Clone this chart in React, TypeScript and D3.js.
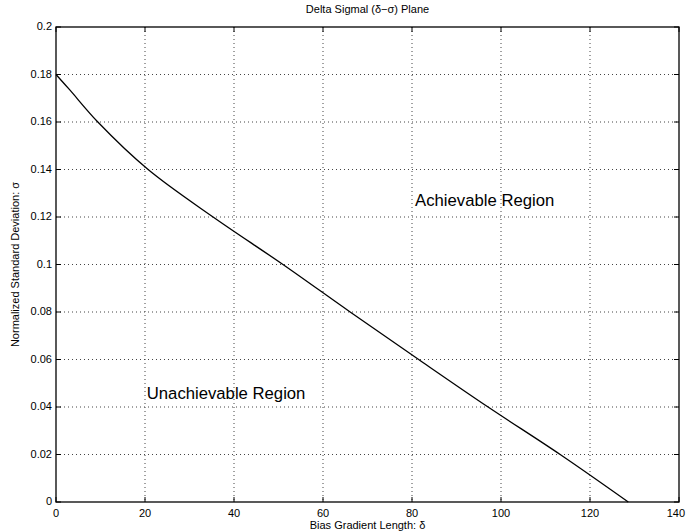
import { useEffect, useRef } from "react";
import * as d3 from "d3";

// curve: delta vs sigma
const delta = [0, 3.1, 9.4, 20.7, 35.3, 51.0, 66.1, 81.5, 97.1, 113.3, 128.6];
const sigma = [0.18, 0.1735, 0.16, 0.14, 0.12, 0.1, 0.08, 0.06, 0.04, 0.02, 0];

const xTicks = [0, 20, 40, 60, 80, 100, 120, 140];
const yTicks = [0, 0.02, 0.04, 0.06, 0.08, 0.1, 0.12, 0.14, 0.16, 0.18, 0.2];

const regionLabels = [
  { text: "Achievable Region", d: 80.7, s: 0.1246 },
  { text: "Unachievable Region", d: 20.4, s: 0.0434 },
];

export default function App() {
  const svgRef = useRef<SVGSVGElement>(null);

  useEffect(() => {
    const W = 686, H = 531;
    const left = 56, right = 679, top = 27, bottom = 502;

    const svg = d3.select(svgRef.current)
      .attr("width", W)
      .attr("height", H);
    svg.selectAll("*").remove();

    const x = d3.scaleLinear().domain([0, 140]).range([left, right]);
    const y = d3.scaleLinear().domain([0, 0.2]).range([bottom, top]);

    const font = "Liberation Sans, Arial, Helvetica, sans-serif";

    svg.append("rect")
      .attr("width", W).attr("height", H).attr("fill", "white");

    // grid
    const grid = svg.append("g")
      .attr("stroke", "#444")
      .attr("stroke-width", 1)
      .attr("stroke-dasharray", "1,3");
    grid.selectAll("line.gx")
      .data(xTicks.slice(1, -1))
      .join("line")
      .attr("x1", d => x(d)).attr("x2", d => x(d))
      .attr("y1", top).attr("y2", bottom);
    grid.selectAll("line.gy")
      .data(yTicks.slice(1, -1))
      .join("line")
      .attr("class", "gy")
      .attr("x1", left).attr("x2", right)
      .attr("y1", d => y(d)).attr("y2", d => y(d));

    // inward ticks on all four sides
    const tl = 5;
    const ticks = svg.append("g").attr("stroke", "black").attr("stroke-width", 1);
    xTicks.forEach(t => {
      ticks.append("line").attr("x1", x(t)).attr("x2", x(t)).attr("y1", bottom).attr("y2", bottom - tl);
      ticks.append("line").attr("x1", x(t)).attr("x2", x(t)).attr("y1", top).attr("y2", top + tl);
    });
    yTicks.forEach(t => {
      ticks.append("line").attr("x1", left).attr("x2", left + tl).attr("y1", y(t)).attr("y2", y(t));
      ticks.append("line").attr("x1", right).attr("x2", right - tl).attr("y1", y(t)).attr("y2", y(t));
    });

    // box
    svg.append("rect")
      .attr("x", left).attr("y", top)
      .attr("width", right - left).attr("height", bottom - top)
      .attr("fill", "none").attr("stroke", "black").attr("stroke-width", 1.3);

    // tick labels (last one pulled in so it stays on the page)
    svg.append("g").selectAll("text")
      .data(xTicks)
      .join("text")
      .attr("x", (d, i) => i === xTicks.length - 1 ? W - 1 : x(d))
      .attr("y", bottom + 15)
      .attr("text-anchor", (_, i) => i === xTicks.length - 1 ? "end" : "middle")
      .attr("font-family", font)
      .attr("font-size", 11)
      .text(d => String(d));

    svg.append("g").selectAll("text")
      .data(yTicks)
      .join("text")
      .attr("x", left - 4)
      .attr("y", d => y(d) + 3)
      .attr("text-anchor", "end")
      .attr("font-family", font)
      .attr("font-size", 11)
      .text(d => String(+d.toFixed(2)));

    // curve
    const line = d3.line<number>()
      .x((_, i) => x(delta[i]))
      .y(d => y(d))
      .curve(d3.curveCatmullRom.alpha(0.5));
    svg.append("path")
      .datum(sigma)
      .attr("fill", "none")
      .attr("stroke", "black")
      .attr("stroke-width", 1.3)
      .attr("d", line);

    // region labels
    svg.append("g").selectAll("text")
      .data(regionLabels)
      .join("text")
      .attr("x", d => x(d.d))
      .attr("y", d => y(d.s))
      .attr("font-family", font)
      .attr("font-size", 16.7)
      .text(d => d.text);

    // title and axis labels
    svg.append("text")
      .attr("x", (left + right) / 2)
      .attr("y", 13)
      .attr("text-anchor", "middle")
      .attr("font-family", font)
      .attr("font-size", 11)
      .text("Delta Sigmal (δ−σ) Plane");

    svg.append("text")
      .attr("x", (left + right) / 2)
      .attr("y", 529)
      .attr("text-anchor", "middle")
      .attr("font-family", font)
      .attr("font-size", 11)
      .text("Bias Gradient Length: δ");

    svg.append("text")
      .attr("transform", `translate(19,${(top + bottom) / 2}) rotate(-90)`)
      .attr("text-anchor", "middle")
      .attr("font-family", font)
      .attr("font-size", 11)
      .text("Normalized Standard Deviation: σ");
  }, []);

  return (
    <svg ref={svgRef} style={{ position: "absolute", left: 0, top: 0 }}></svg>
  );
}
